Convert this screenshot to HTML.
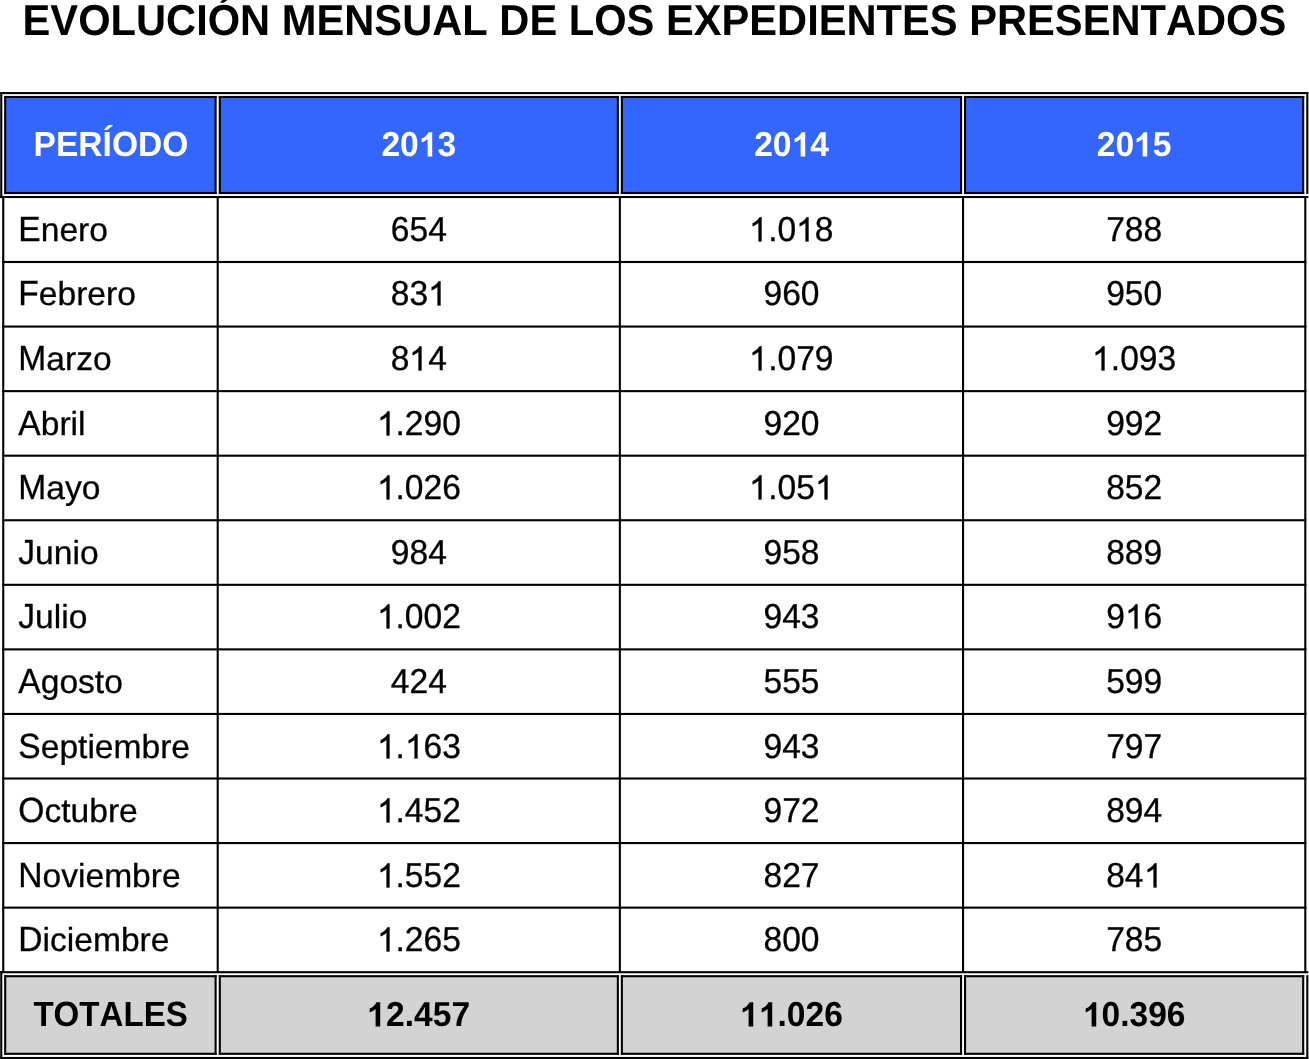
<!DOCTYPE html>
<html lang="es">
<head>
<meta charset="utf-8">
<title>Evolución mensual de los expedientes presentados</title>
<style>
html,body{margin:0;padding:0;background:#fff;overflow:hidden;}
html{width:1309px;height:1059px;}
body{width:1309px;height:1059px;position:relative;overflow:hidden;
font-family:"Liberation Sans",sans-serif;color:#000;}
#g{position:absolute;left:0;top:0;}
.t{position:absolute;white-space:nowrap;font-weight:400;-webkit-text-stroke:0.3px #000;font-kerning:none;text-rendering:geometricPrecision;transform:scaleY(1.04);}
.b{font-weight:700;-webkit-text-stroke:0;}
.m{transform:scaleY(0.985);}
.c{display:inline-block;transform:scaleY(1.0558);transform-origin:0 30px;}
.o{display:inline-block;width:.55615em;height:0.6978em;vertical-align:baseline;fill:currentColor;stroke:#000;stroke-width:18.3;overflow:visible;}
.b .o{stroke:none;}
.w{color:#fff;}
#txt{position:absolute;left:0;top:0;width:1309px;height:1059px;overflow:hidden;will-change:transform;}
</style>
</head>
<body>
<svg id="g" width="1309" height="1059" viewBox="0 0 1309 1059">
<rect x="5.20" y="97.00" width="210.40" height="96.00" fill="#3366FF"/>
<rect x="5.20" y="976.20" width="210.40" height="77.60" fill="#D3D3D3"/>
<rect x="219.80" y="97.00" width="398.05" height="96.00" fill="#3366FF"/>
<rect x="219.80" y="976.20" width="398.05" height="77.60" fill="#D3D3D3"/>
<rect x="621.85" y="97.00" width="339.20" height="96.00" fill="#3366FF"/>
<rect x="621.85" y="976.20" width="339.20" height="77.60" fill="#D3D3D3"/>
<rect x="965.05" y="97.00" width="338.15" height="96.00" fill="#3366FF"/>
<rect x="965.05" y="976.20" width="338.15" height="77.60" fill="#D3D3D3"/>
<g fill="#000">
<rect x="0.20" y="92.05" width="1308.15" height="2.10"/>
<rect x="0.20" y="92.05" width="2.10" height="106.00"/>
<rect x="1306.25" y="92.05" width="2.10" height="102.00"/>
<rect x="0.00" y="195.95" width="1308.35" height="2.10"/>
<rect x="4.15" y="95.95" width="212.50" height="2.10"/>
<rect x="4.15" y="191.95" width="212.50" height="2.10"/>
<rect x="4.15" y="95.95" width="2.10" height="98.10"/>
<rect x="214.55" y="95.95" width="2.10" height="98.10"/>
<rect x="218.75" y="95.95" width="400.15" height="2.10"/>
<rect x="218.75" y="191.95" width="400.15" height="2.10"/>
<rect x="218.75" y="95.95" width="2.10" height="98.10"/>
<rect x="616.80" y="95.95" width="2.10" height="98.10"/>
<rect x="620.80" y="95.95" width="341.30" height="2.10"/>
<rect x="620.80" y="191.95" width="341.30" height="2.10"/>
<rect x="620.80" y="95.95" width="2.10" height="98.10"/>
<rect x="960.00" y="95.95" width="2.10" height="98.10"/>
<rect x="964.00" y="95.95" width="340.25" height="2.10"/>
<rect x="964.00" y="191.95" width="340.25" height="2.10"/>
<rect x="964.00" y="95.95" width="2.10" height="98.10"/>
<rect x="1302.15" y="95.95" width="2.10" height="98.10"/>
<rect x="2.20" y="260.95" width="1304.15" height="2.10"/>
<rect x="2.20" y="325.51" width="1304.15" height="2.10"/>
<rect x="2.20" y="390.08" width="1304.15" height="2.10"/>
<rect x="2.20" y="454.64" width="1304.15" height="2.10"/>
<rect x="2.20" y="519.20" width="1304.15" height="2.10"/>
<rect x="2.20" y="583.77" width="1304.15" height="2.10"/>
<rect x="2.20" y="648.33" width="1304.15" height="2.10"/>
<rect x="2.20" y="712.90" width="1304.15" height="2.10"/>
<rect x="2.20" y="777.46" width="1304.15" height="2.10"/>
<rect x="2.20" y="842.02" width="1304.15" height="2.10"/>
<rect x="2.20" y="906.59" width="1304.15" height="2.10"/>
<rect x="2.20" y="197.00" width="2.10" height="775.20"/>
<rect x="216.65" y="197.00" width="2.10" height="775.20"/>
<rect x="618.80" y="197.00" width="2.10" height="775.20"/>
<rect x="962.00" y="197.00" width="2.10" height="775.20"/>
<rect x="1304.25" y="197.00" width="2.10" height="775.20"/>
<rect x="0.00" y="971.15" width="1308.35" height="2.10"/>
<rect x="0.20" y="1056.95" width="1308.15" height="2.10"/>
<rect x="0.20" y="971.15" width="2.10" height="87.90"/>
<rect x="1306.25" y="975.15" width="2.10" height="83.90"/>
<rect x="4.15" y="975.15" width="212.50" height="2.10"/>
<rect x="4.15" y="1052.75" width="212.50" height="2.10"/>
<rect x="4.15" y="975.15" width="2.10" height="79.70"/>
<rect x="214.55" y="975.15" width="2.10" height="79.70"/>
<rect x="218.75" y="975.15" width="400.15" height="2.10"/>
<rect x="218.75" y="1052.75" width="400.15" height="2.10"/>
<rect x="218.75" y="975.15" width="2.10" height="79.70"/>
<rect x="616.80" y="975.15" width="2.10" height="79.70"/>
<rect x="620.80" y="975.15" width="341.30" height="2.10"/>
<rect x="620.80" y="1052.75" width="341.30" height="2.10"/>
<rect x="620.80" y="975.15" width="2.10" height="79.70"/>
<rect x="960.00" y="975.15" width="2.10" height="79.70"/>
<rect x="964.00" y="975.15" width="340.25" height="2.10"/>
<rect x="964.00" y="1052.75" width="340.25" height="2.10"/>
<rect x="964.00" y="975.15" width="2.10" height="79.70"/>
<rect x="1302.15" y="975.15" width="2.10" height="79.70"/>
</g>
</svg>
<div id="txt">
<div class="t b" style="top:-4px;left:-46px;padding-left:0.45px;width:1400px;text-align:center;font-size:41.665px;line-height:50px;height:50px;transform-origin:700px 39px;">EVOLUCIÓN MENSUAL DE LOS EXPEDIENTES PRESENTADOS</div>
<div class="t b w" style="top:126px;left:-289px;padding-left:0.00px;width:800px;text-align:center;font-size:33.6px;line-height:40px;height:40px;transform-origin:400.00px 30px;">PERÍODO</div>
<div class="t b w" style="top:126px;left:18px;padding-left:0.80px;width:800px;text-align:center;font-size:33.6px;line-height:40px;height:40px;transform-origin:400.80px 30px;transform:scale(1.0,1.03);">20<svg class="o" viewBox="0 0 1139 1472" preserveAspectRatio="none"><path d="M806 1472H525V413Q371 557 162 626V371Q272 335 401 234.5Q530 134 578 0H806Z"/></svg>3</div>
<div class="t b w" style="top:126px;left:391px;padding-left:0.50px;width:800px;text-align:center;font-size:33.6px;line-height:40px;height:40px;transform-origin:400.50px 30px;transform:scale(1.0,1.03);">20<svg class="o" viewBox="0 0 1139 1472" preserveAspectRatio="none"><path d="M806 1472H525V413Q371 557 162 626V371Q272 335 401 234.5Q530 134 578 0H806Z"/></svg>4</div>
<div class="t b w" style="top:126px;left:734px;padding-left:0.20px;width:800px;text-align:center;font-size:33.6px;line-height:40px;height:40px;transform-origin:400.20px 30px;transform:scale(1.0,1.03);">20<svg class="o" viewBox="0 0 1139 1472" preserveAspectRatio="none"><path d="M806 1472H525V413Q371 557 162 626V371Q272 335 401 234.5Q530 134 578 0H806Z"/></svg>5</div>
<div class="t m" style="top:211px;left:18px;padding-left:0.30px;font-size:33.6px;line-height:40px;height:40px;transform-origin:0 30px;"><span class="c">E</span>nero</div>
<div class="t " style="top:211px;left:18px;padding-left:0.80px;width:800px;text-align:center;font-size:33.6px;line-height:40px;height:40px;transform-origin:400.80px 30px;transform:scale(1.0,1.03);">654</div>
<div class="t " style="top:211px;left:391px;padding-left:0.50px;width:800px;text-align:center;font-size:33.6px;line-height:40px;height:40px;transform-origin:400.50px 30px;transform:scale(1.0,1.03);"><svg class="o" viewBox="0 0 1139 1472" preserveAspectRatio="none"><path d="M763 1472H583V325Q518 387 412.5 449Q307 511 223 542V368Q374 297 487 196Q600 95 647 0H763Z"/></svg>.0<svg class="o" viewBox="0 0 1139 1472" preserveAspectRatio="none"><path d="M763 1472H583V325Q518 387 412.5 449Q307 511 223 542V368Q374 297 487 196Q600 95 647 0H763Z"/></svg>8</div>
<div class="t " style="top:211px;left:734px;padding-left:0.20px;width:800px;text-align:center;font-size:33.6px;line-height:40px;height:40px;transform-origin:400.20px 30px;transform:scale(1.0,1.03);">788</div>
<div class="t m" style="top:275px;left:18px;padding-left:0.30px;font-size:33.6px;line-height:40px;height:40px;transform-origin:0 30px;"><span class="c">F</span>ebrero</div>
<div class="t " style="top:275px;left:18px;padding-left:0.80px;width:800px;text-align:center;font-size:33.6px;line-height:40px;height:40px;transform-origin:400.80px 30px;transform:scale(1.0,1.03);">83<svg class="o" viewBox="0 0 1139 1472" preserveAspectRatio="none"><path d="M763 1472H583V325Q518 387 412.5 449Q307 511 223 542V368Q374 297 487 196Q600 95 647 0H763Z"/></svg></div>
<div class="t " style="top:275px;left:391px;padding-left:0.50px;width:800px;text-align:center;font-size:33.6px;line-height:40px;height:40px;transform-origin:400.50px 30px;transform:scale(1.0,1.03);">960</div>
<div class="t " style="top:275px;left:734px;padding-left:0.20px;width:800px;text-align:center;font-size:33.6px;line-height:40px;height:40px;transform-origin:400.20px 30px;transform:scale(1.0,1.03);">950</div>
<div class="t m" style="top:340px;left:18px;padding-left:0.30px;font-size:33.6px;line-height:40px;height:40px;transform-origin:0 30px;"><span class="c">M</span>arzo</div>
<div class="t " style="top:340px;left:18px;padding-left:0.80px;width:800px;text-align:center;font-size:33.6px;line-height:40px;height:40px;transform-origin:400.80px 30px;transform:scale(1.0,1.03);">8<svg class="o" viewBox="0 0 1139 1472" preserveAspectRatio="none"><path d="M763 1472H583V325Q518 387 412.5 449Q307 511 223 542V368Q374 297 487 196Q600 95 647 0H763Z"/></svg>4</div>
<div class="t " style="top:340px;left:391px;padding-left:0.50px;width:800px;text-align:center;font-size:33.6px;line-height:40px;height:40px;transform-origin:400.50px 30px;transform:scale(1.0,1.03);"><svg class="o" viewBox="0 0 1139 1472" preserveAspectRatio="none"><path d="M763 1472H583V325Q518 387 412.5 449Q307 511 223 542V368Q374 297 487 196Q600 95 647 0H763Z"/></svg>.079</div>
<div class="t " style="top:340px;left:734px;padding-left:0.20px;width:800px;text-align:center;font-size:33.6px;line-height:40px;height:40px;transform-origin:400.20px 30px;transform:scale(1.0,1.03);"><svg class="o" viewBox="0 0 1139 1472" preserveAspectRatio="none"><path d="M763 1472H583V325Q518 387 412.5 449Q307 511 223 542V368Q374 297 487 196Q600 95 647 0H763Z"/></svg>.093</div>
<div class="t m" style="top:405px;left:18px;padding-left:0.30px;font-size:33.6px;line-height:40px;height:40px;transform-origin:0 30px;"><span class="c">A</span>bril</div>
<div class="t " style="top:405px;left:18px;padding-left:0.80px;width:800px;text-align:center;font-size:33.6px;line-height:40px;height:40px;transform-origin:400.80px 30px;transform:scale(1.0,1.03);"><svg class="o" viewBox="0 0 1139 1472" preserveAspectRatio="none"><path d="M763 1472H583V325Q518 387 412.5 449Q307 511 223 542V368Q374 297 487 196Q600 95 647 0H763Z"/></svg>.290</div>
<div class="t " style="top:405px;left:391px;padding-left:0.50px;width:800px;text-align:center;font-size:33.6px;line-height:40px;height:40px;transform-origin:400.50px 30px;transform:scale(1.0,1.03);">920</div>
<div class="t " style="top:405px;left:734px;padding-left:0.20px;width:800px;text-align:center;font-size:33.6px;line-height:40px;height:40px;transform-origin:400.20px 30px;transform:scale(1.0,1.03);">992</div>
<div class="t m" style="top:469px;left:18px;padding-left:0.30px;font-size:33.6px;line-height:40px;height:40px;transform-origin:0 30px;"><span class="c">M</span>ayo</div>
<div class="t " style="top:469px;left:18px;padding-left:0.80px;width:800px;text-align:center;font-size:33.6px;line-height:40px;height:40px;transform-origin:400.80px 30px;transform:scale(1.0,1.03);"><svg class="o" viewBox="0 0 1139 1472" preserveAspectRatio="none"><path d="M763 1472H583V325Q518 387 412.5 449Q307 511 223 542V368Q374 297 487 196Q600 95 647 0H763Z"/></svg>.026</div>
<div class="t " style="top:469px;left:391px;padding-left:0.50px;width:800px;text-align:center;font-size:33.6px;line-height:40px;height:40px;transform-origin:400.50px 30px;transform:scale(1.0,1.03);"><svg class="o" viewBox="0 0 1139 1472" preserveAspectRatio="none"><path d="M763 1472H583V325Q518 387 412.5 449Q307 511 223 542V368Q374 297 487 196Q600 95 647 0H763Z"/></svg>.05<svg class="o" viewBox="0 0 1139 1472" preserveAspectRatio="none"><path d="M763 1472H583V325Q518 387 412.5 449Q307 511 223 542V368Q374 297 487 196Q600 95 647 0H763Z"/></svg></div>
<div class="t " style="top:469px;left:734px;padding-left:0.20px;width:800px;text-align:center;font-size:33.6px;line-height:40px;height:40px;transform-origin:400.20px 30px;transform:scale(1.0,1.03);">852</div>
<div class="t m" style="top:534px;left:18px;padding-left:0.30px;font-size:33.6px;line-height:40px;height:40px;transform-origin:0 30px;"><span class="c">J</span>unio</div>
<div class="t " style="top:534px;left:18px;padding-left:0.80px;width:800px;text-align:center;font-size:33.6px;line-height:40px;height:40px;transform-origin:400.80px 30px;transform:scale(1.0,1.03);">984</div>
<div class="t " style="top:534px;left:391px;padding-left:0.50px;width:800px;text-align:center;font-size:33.6px;line-height:40px;height:40px;transform-origin:400.50px 30px;transform:scale(1.0,1.03);">958</div>
<div class="t " style="top:534px;left:734px;padding-left:0.20px;width:800px;text-align:center;font-size:33.6px;line-height:40px;height:40px;transform-origin:400.20px 30px;transform:scale(1.0,1.03);">889</div>
<div class="t m" style="top:598px;left:18px;padding-left:0.30px;font-size:33.6px;line-height:40px;height:40px;transform-origin:0 30px;"><span class="c">J</span>ulio</div>
<div class="t " style="top:598px;left:18px;padding-left:0.80px;width:800px;text-align:center;font-size:33.6px;line-height:40px;height:40px;transform-origin:400.80px 30px;transform:scale(1.0,1.03);"><svg class="o" viewBox="0 0 1139 1472" preserveAspectRatio="none"><path d="M763 1472H583V325Q518 387 412.5 449Q307 511 223 542V368Q374 297 487 196Q600 95 647 0H763Z"/></svg>.002</div>
<div class="t " style="top:598px;left:391px;padding-left:0.50px;width:800px;text-align:center;font-size:33.6px;line-height:40px;height:40px;transform-origin:400.50px 30px;transform:scale(1.0,1.03);">943</div>
<div class="t " style="top:598px;left:734px;padding-left:0.20px;width:800px;text-align:center;font-size:33.6px;line-height:40px;height:40px;transform-origin:400.20px 30px;transform:scale(1.0,1.03);">9<svg class="o" viewBox="0 0 1139 1472" preserveAspectRatio="none"><path d="M763 1472H583V325Q518 387 412.5 449Q307 511 223 542V368Q374 297 487 196Q600 95 647 0H763Z"/></svg>6</div>
<div class="t m" style="top:663px;left:18px;padding-left:0.30px;font-size:33.6px;line-height:40px;height:40px;transform-origin:0 30px;"><span class="c">A</span>gosto</div>
<div class="t " style="top:663px;left:18px;padding-left:0.80px;width:800px;text-align:center;font-size:33.6px;line-height:40px;height:40px;transform-origin:400.80px 30px;transform:scale(1.0,1.03);">424</div>
<div class="t " style="top:663px;left:391px;padding-left:0.50px;width:800px;text-align:center;font-size:33.6px;line-height:40px;height:40px;transform-origin:400.50px 30px;transform:scale(1.0,1.03);">555</div>
<div class="t " style="top:663px;left:734px;padding-left:0.20px;width:800px;text-align:center;font-size:33.6px;line-height:40px;height:40px;transform-origin:400.20px 30px;transform:scale(1.0,1.03);">599</div>
<div class="t m" style="top:728px;left:18px;padding-left:0.30px;font-size:33.6px;line-height:40px;height:40px;transform-origin:0 30px;"><span class="c">S</span>eptiembre</div>
<div class="t " style="top:728px;left:18px;padding-left:0.80px;width:800px;text-align:center;font-size:33.6px;line-height:40px;height:40px;transform-origin:400.80px 30px;transform:scale(1.0,1.03);"><svg class="o" viewBox="0 0 1139 1472" preserveAspectRatio="none"><path d="M763 1472H583V325Q518 387 412.5 449Q307 511 223 542V368Q374 297 487 196Q600 95 647 0H763Z"/></svg>.<svg class="o" viewBox="0 0 1139 1472" preserveAspectRatio="none"><path d="M763 1472H583V325Q518 387 412.5 449Q307 511 223 542V368Q374 297 487 196Q600 95 647 0H763Z"/></svg>63</div>
<div class="t " style="top:728px;left:391px;padding-left:0.50px;width:800px;text-align:center;font-size:33.6px;line-height:40px;height:40px;transform-origin:400.50px 30px;transform:scale(1.0,1.03);">943</div>
<div class="t " style="top:728px;left:734px;padding-left:0.20px;width:800px;text-align:center;font-size:33.6px;line-height:40px;height:40px;transform-origin:400.20px 30px;transform:scale(1.0,1.03);">797</div>
<div class="t m" style="top:792px;left:18px;padding-left:0.30px;font-size:33.6px;line-height:40px;height:40px;transform-origin:0 30px;"><span class="c">O</span>ctubre</div>
<div class="t " style="top:792px;left:18px;padding-left:0.80px;width:800px;text-align:center;font-size:33.6px;line-height:40px;height:40px;transform-origin:400.80px 30px;transform:scale(1.0,1.03);"><svg class="o" viewBox="0 0 1139 1472" preserveAspectRatio="none"><path d="M763 1472H583V325Q518 387 412.5 449Q307 511 223 542V368Q374 297 487 196Q600 95 647 0H763Z"/></svg>.452</div>
<div class="t " style="top:792px;left:391px;padding-left:0.50px;width:800px;text-align:center;font-size:33.6px;line-height:40px;height:40px;transform-origin:400.50px 30px;transform:scale(1.0,1.03);">972</div>
<div class="t " style="top:792px;left:734px;padding-left:0.20px;width:800px;text-align:center;font-size:33.6px;line-height:40px;height:40px;transform-origin:400.20px 30px;transform:scale(1.0,1.03);">894</div>
<div class="t m" style="top:857px;left:18px;padding-left:0.30px;font-size:33.6px;line-height:40px;height:40px;transform-origin:0 30px;"><span class="c">N</span>oviembre</div>
<div class="t " style="top:857px;left:18px;padding-left:0.80px;width:800px;text-align:center;font-size:33.6px;line-height:40px;height:40px;transform-origin:400.80px 30px;transform:scale(1.0,1.03);"><svg class="o" viewBox="0 0 1139 1472" preserveAspectRatio="none"><path d="M763 1472H583V325Q518 387 412.5 449Q307 511 223 542V368Q374 297 487 196Q600 95 647 0H763Z"/></svg>.552</div>
<div class="t " style="top:857px;left:391px;padding-left:0.50px;width:800px;text-align:center;font-size:33.6px;line-height:40px;height:40px;transform-origin:400.50px 30px;transform:scale(1.0,1.03);">827</div>
<div class="t " style="top:857px;left:734px;padding-left:0.20px;width:800px;text-align:center;font-size:33.6px;line-height:40px;height:40px;transform-origin:400.20px 30px;transform:scale(1.0,1.03);">84<svg class="o" viewBox="0 0 1139 1472" preserveAspectRatio="none"><path d="M763 1472H583V325Q518 387 412.5 449Q307 511 223 542V368Q374 297 487 196Q600 95 647 0H763Z"/></svg></div>
<div class="t m" style="top:921px;left:18px;padding-left:0.30px;font-size:33.6px;line-height:40px;height:40px;transform-origin:0 30px;"><span class="c">D</span>iciembre</div>
<div class="t " style="top:921px;left:18px;padding-left:0.80px;width:800px;text-align:center;font-size:33.6px;line-height:40px;height:40px;transform-origin:400.80px 30px;transform:scale(1.0,1.03);"><svg class="o" viewBox="0 0 1139 1472" preserveAspectRatio="none"><path d="M763 1472H583V325Q518 387 412.5 449Q307 511 223 542V368Q374 297 487 196Q600 95 647 0H763Z"/></svg>.265</div>
<div class="t " style="top:921px;left:391px;padding-left:0.50px;width:800px;text-align:center;font-size:33.6px;line-height:40px;height:40px;transform-origin:400.50px 30px;transform:scale(1.0,1.03);">800</div>
<div class="t " style="top:921px;left:734px;padding-left:0.20px;width:800px;text-align:center;font-size:33.6px;line-height:40px;height:40px;transform-origin:400.20px 30px;transform:scale(1.0,1.03);">785</div>
<div class="t b" style="top:996px;left:-290px;padding-left:0.60px;width:800px;text-align:center;font-size:33.6px;line-height:40px;height:40px;transform-origin:400.60px 30px;transform:scale(0.985,1.04);">TOTALES</div>
<div class="t b" style="top:996px;left:18px;padding-left:0.80px;width:800px;text-align:center;font-size:33.6px;line-height:40px;height:40px;transform-origin:400.80px 30px;transform:scale(1.0,1.03);"><svg class="o" viewBox="0 0 1139 1472" preserveAspectRatio="none"><path d="M806 1472H525V413Q371 557 162 626V371Q272 335 401 234.5Q530 134 578 0H806Z"/></svg>2.457</div>
<div class="t b" style="top:996px;left:391px;padding-left:0.50px;width:800px;text-align:center;font-size:33.6px;line-height:40px;height:40px;transform-origin:400.50px 30px;transform:scale(1.0,1.03);"><svg class="o" viewBox="0 0 1139 1472" preserveAspectRatio="none"><path d="M806 1472H525V413Q371 557 162 626V371Q272 335 401 234.5Q530 134 578 0H806Z"/></svg><svg class="o" viewBox="0 0 1139 1472" preserveAspectRatio="none"><path d="M806 1472H525V413Q371 557 162 626V371Q272 335 401 234.5Q530 134 578 0H806Z"/></svg>.026</div>
<div class="t b" style="top:996px;left:734px;padding-left:0.20px;width:800px;text-align:center;font-size:33.6px;line-height:40px;height:40px;transform-origin:400.20px 30px;transform:scale(1.0,1.03);"><svg class="o" viewBox="0 0 1139 1472" preserveAspectRatio="none"><path d="M806 1472H525V413Q371 557 162 626V371Q272 335 401 234.5Q530 134 578 0H806Z"/></svg>0.396</div>
</div>
</body>
</html>
